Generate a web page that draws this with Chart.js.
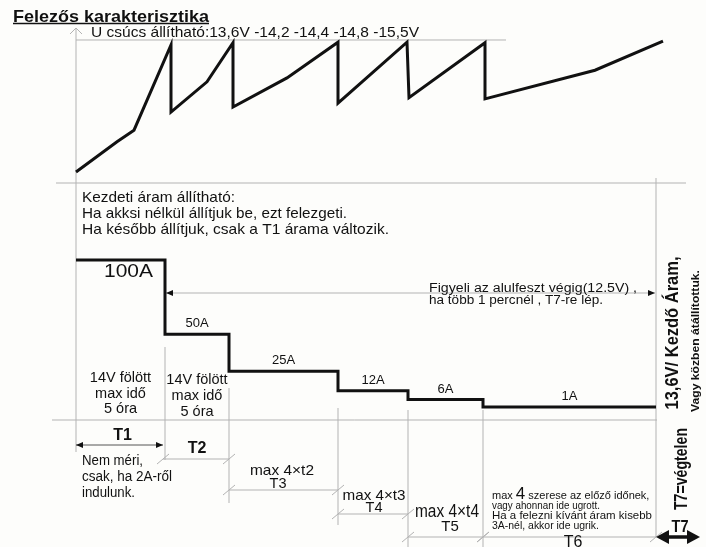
<!DOCTYPE html>
<html>
<head>
<meta charset="utf-8">
<script src="https://cdn.jsdelivr.net/npm/chart.js@4.4.0/dist/chart.umd.min.js"></script>
<style>
  html, body { margin: 0; padding: 0; background: #fdfdfb; }
  canvas { display: block; }
</style>
</head>
<body>
<canvas id="chart" width="706" height="547"></canvas>
<script>
// time axis: where each phase begins (T7 starts where the halving ends)
const phaseNames = ['T1', 'T2', 'T3', 'T4', 'T5', 'T6', 'T7'];
const phaseStart = [76, 165, 229, 338, 408, 483, 656];
const phaseEnd = 700;

// charging current of each phase, amps
const stepCurrent = [100, 50, 25, 12, 6, 1];
const currentLabels = stepCurrent.map(a => a + 'A');

// battery voltage curve (volts)
const voltTime = [76, 117, 134, 171, 171, 207, 233, 233, 287, 338, 338, 407, 409, 485, 485, 595, 663];
const voltValue = [12.00, 12.55, 12.76, 14.31, 13.09, 13.64, 14.35, 13.18, 13.71, 14.36, 13.25, 14.36, 13.35, 14.35, 13.33, 13.85, 14.38];
const uPeak = 14.4;

const FONT = "'Liberation Sans', Arial, sans-serif";
const INK = '#111';
const GRID = '#b3b3b3';

function put(ctx, str, x, y, size, opt = {}) {
    ctx.save();
    ctx.font = (opt.bold ? 'bold ' : '') + size + 'px ' + FONT;
    ctx.fillStyle = opt.color || INK;
    ctx.textBaseline = 'alphabetic';
    ctx.textAlign = opt.align || 'left';
    ctx.translate(x, y);
    if (opt.rot) ctx.rotate(opt.rot);
    if (opt.w) ctx.scale(opt.w / ctx.measureText(str).width, 1);
    ctx.fillText(str, 0, 0);
    const w = ctx.measureText(str).width;
    ctx.restore();
    return w;
}

function line(ctx, x1, y1, x2, y2, color, width) {
    ctx.save();
    ctx.strokeStyle = color || GRID;
    ctx.lineWidth = width || 1;
    ctx.beginPath();
    ctx.moveTo(x1, y1);
    ctx.lineTo(x2, y2);
    ctx.stroke();
    ctx.restore();
}

function head(ctx, x, y, dir, len, half) {
    // filled arrow head, tip at (x, y), dir = -1 points left, 1 points right
    ctx.save();
    ctx.fillStyle = INK;
    ctx.beginPath();
    ctx.moveTo(x, y);
    ctx.lineTo(x - dir * len, y - half);
    ctx.lineTo(x - dir * len, y + half);
    ctx.closePath();
    ctx.fill();
    ctx.restore();
}

function slash(ctx, x, y) {
    line(ctx, x - 6, y + 5, x + 6, y - 5, GRID, 1);
}

const diagram = {
    id: 'diagram',
    beforeDraw(chart) {
        const c = chart.ctx;
        c.save();
        c.fillStyle = '#fdfdfb';
        c.fillRect(0, 0, chart.width, chart.height);
        c.restore();
    },
    beforeDatasetsDraw(chart) {
        const c = chart.ctx;
        const x = chart.scales.x, yV = chart.scales.yV, yA = chart.scales.yA;
        const px = phaseStart.map(t => x.getPixelForValue(t));
        const xEnd = x.getPixelForValue(phaseEnd);

        // title
        put(c, 'Felezős karakterisztika', 13, 21.5, 17, { bold: true, w: 196 });
        line(c, 13, 23.5, 209, 23.5, INK, 1.3);

        // voltage axis with open arrow, peak limit line
        line(c, px[0], 28, px[0], 452);
        line(c, px[0] - 6, 34, px[0], 28);
        line(c, px[0], 28, px[0] + 6, 34);
        const yPeak = yV.getPixelForValue(uPeak);
        line(c, px[0], yPeak, 506, yPeak);
        put(c, 'U csúcs állítható:13,6V -14,2 -14,4 -14,8 -15,5V', 91, 37, 15, { w: 328 });

        // separators
        line(c, 56, 183, 686, 183);
        line(c, 52, 420, px[6] + 1, 420);

        // phase boundaries
        const spans = [null, [347, 460], [388, 503], [408, 525], [410, 547], [410, 547], [178, 537]];
        spans.forEach((s, i) => { if (s) line(c, px[i], s[0], px[i], s[1]); });

        // current notes
        put(c, 'Kezdeti áram állítható:', 82, 202, 14.5, { w: 153 });
        put(c, 'Ha akksi nélkül állítjuk be, ezt felezgeti.', 82, 218, 14.5, { w: 265 });
        put(c, 'Ha később állítjuk, csak a T1 árama változik.', 82, 234, 14.5, { w: 307 });

        // step labels
        currentLabels.forEach((lab, i) => {
            const mid = (px[i] + px[i + 1]) / 2;
            const yl = yA.getPixelForValue(stepCurrent[i]);
            if (i === 0) put(c, lab, mid + 8, yl + 17, 19, { align: 'center', w: 49 });
            else put(c, lab, mid, yl - 7, 13, { align: 'center' });
        });

        // undervoltage watch arrow
        line(c, px[1], 293, 655, 293);
        head(c, px[1] + 1, 293, -1, 7, 3);
        head(c, 655, 293, 1, 7, 3);
        put(c, 'Figyeli az alulfeszt végig(12.5V) ,', 429, 291.5, 12.5, { w: 208 });
        put(c, 'ha több 1 percnél , T7-re lép.', 429, 303.5, 12.5, { w: 174 });

        // 14V limits for T1, T2
        [[382, 398, 413], [384, 400, 416]].forEach((ys, i) => {
            const mid = (px[i] + px[i + 1]) / 2;
            put(c, '14V fölött', mid, ys[0], 14.5, { align: 'center' });
            put(c, 'max idő', mid, ys[1], 14.5, { align: 'center' });
            put(c, '5 óra', mid, ys[2], 14.5, { align: 'center' });
        });

        // T1 dimension with arrows
        line(c, px[0], 445, px[1] - 2, 445, '#555', 1);
        head(c, px[0], 445, -1, 7, 3);
        head(c, px[1] - 2, 445, 1, 7, 3);
        put(c, phaseNames[0], (px[0] + px[1]) / 2 + 2, 440, 16, { bold: true, align: 'center' });
        put(c, 'Nem méri,', 82, 465, 14, { w: 61 });
        put(c, 'csak, ha 2A-ről', 82, 481, 14, { w: 90 });
        put(c, 'indulunk.', 82, 497, 14, { w: 53 });

        // T2..T6 dimensions with slashes
        const dimY = [445, 459, 490, 514, 537, 537];
        for (let i = 1; i < 6; i++) {
            const a = i === 1 ? px[1] - 2 : px[i], b = px[i + 1];
            line(c, a, dimY[i], b, dimY[i]);
            slash(c, a, dimY[i]);
            slash(c, b, dimY[i]);
        }
        put(c, phaseNames[1], (px[1] + px[2]) / 2, 453, 16, { bold: true, align: 'center' });
        put(c, 'max 4×t2', 282, 475, 14.5, { align: 'center', w: 64 });
        put(c, phaseNames[2], 278, 488, 14.5, { align: 'center' });
        put(c, 'max 4×t3', (px[3] + px[4]) / 2 + 1, 500, 14.5, { align: 'center', w: 63 });
        put(c, phaseNames[3], (px[3] + px[4]) / 2 + 1, 512, 14.5, { align: 'center' });
        put(c, 'max 4×t4', 447, 517, 17.5, { align: 'center', w: 64 });
        put(c, phaseNames[4], 450, 531, 15, { align: 'center' });
        put(c, phaseNames[5], 573, 547, 16, { align: 'center' });

        // T6 note
        let xx = 492;
        xx += put(c, 'max ', xx, 498.5, 11);
        xx += put(c, '4', xx, 498.5, 17);
        put(c, ' szerese az előző időnek,', xx, 498.5, 11);
        put(c, 'vagy ahonnan ide ugrott.', 492, 508.5, 11, { w: 108 });
        put(c, 'Ha a felezni kívánt áram kisebb', 492, 519, 11, { w: 160 });
        put(c, '3A-nél, akkor ide ugrik.', 492, 529, 11, { w: 107 });

        // T7
        const rot = -Math.PI / 2;
        put(c, '13,6V/ Kezdő Áram,', 678, 333, 19, { bold: true, align: 'center', rot, w: 153 });
        put(c, 'Vagy közben átállítottuk.', 698.5, 341, 11.5, { bold: true, align: 'center', rot, w: 142 });
        put(c, 'T7=végtelen', 687, 469, 18, { bold: true, align: 'center', rot, w: 82 });
        put(c, phaseNames[6], (px[6] + xEnd) / 2 + 2, 532, 17, { bold: true, align: 'center', w: 17 });
    },
    afterDatasetsDraw(chart) {
        const c = chart.ctx;
        const px6 = chart.scales.x.getPixelForValue(phaseStart[6]);
        const xEnd = chart.scales.x.getPixelForValue(phaseEnd);
        line(c, px6 + 6, 537, xEnd - 6, 537, INK, 3.5);
        head(c, px6, 537, -1, 13, 7);
        head(c, xEnd, 537, 1, 13, 7);
    }
};

const voltData = voltTime.map((t, i) => ({ x: t, y: voltValue[i] }));
const currentData = stepCurrent.map((a, i) => ({ x: phaseStart[i], y: a }));
currentData.push({ x: phaseStart[6], y: stepCurrent[stepCurrent.length - 1] });

new Chart(document.getElementById('chart').getContext('2d'), {
    type: 'line',
    data: {
        datasets: [{
            label: 'Feszültség',
            data: voltData,
            yAxisID: 'yV',
            borderColor: INK,
            borderWidth: 3,
            borderJoinStyle: 'miter',
            pointRadius: 0,
            tension: 0
        }, {
            label: 'Áram',
            data: currentData,
            yAxisID: 'yA',
            stepped: 'before',
            borderColor: INK,
            borderWidth: 3,
            borderJoinStyle: 'miter',
            pointRadius: 0
        }]
    },
    options: {
        responsive: false,
        animation: false,
        layout: { padding: 0 },
        plugins: {
            legend: { display: false },
            title: { display: false },
            tooltip: { enabled: false }
        },
        scales: {
            x: { type: 'linear', min: 0, max: 706, display: false },
            // 12 V sits at y=172, 55 px per volt
            yV: { type: 'linear', min: 5.182, max: 15.127, display: false },
            // 0 A sits at y=408.5, ~1.485 px per amp
            yA: { type: 'linear', min: -93.3, max: 275.1, display: false }
        }
    },
    plugins: [diagram]
});
</script>
</body>
</html>
